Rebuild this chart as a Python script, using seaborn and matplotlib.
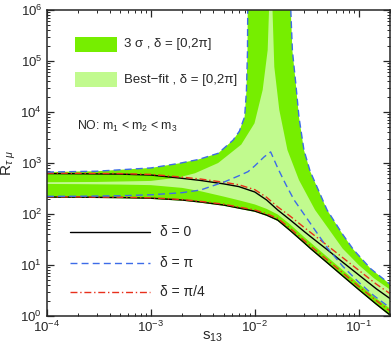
import numpy as np
import matplotlib
matplotlib.use("Agg")
import matplotlib.pyplot as plt
from matplotlib.patches import Rectangle
import seaborn as sns

# ---------------- data ----------------
s13_band = [1e-4, 2e-4, 5e-4, 1e-3, 2e-3, 3e-3, 5e-3, 7e-3, 0.01, 0.013, 0.0166,
            0.022, 0.03, 0.0344, 0.05, 0.0715, 0.1, 0.148, 0.2]
R_delta0_hi = [620, 615, 605, 580, 500, 455, 390, 345, 270, 188, 120,
               76, 45, 36, 19.8, 11, 6.4, 3.4, 2.2]
R_delta0_lo = [215, 214, 210, 204, 188, 172, 150, 131, 114, 95, 76,
               47, 27, 21, 11, 5.9, 3.3, 1.7, 1.05]
R_pi4_hi = [632, 628, 620, 598, 528, 485, 420, 375, 300, 212, 138,
            90, 54, 43.5, 24, 13.5, 7.9, 4.2, 2.75]
R_pi4_lo = [218, 217, 213, 208, 192, 177, 156, 137, 120, 101, 82,
            52, 30, 23.5, 12.5, 6.8, 3.8, 2.0, 1.25]
R_3sigma_lo = [208, 207, 203, 197, 182, 166, 145, 127, 110, 92, 73,
               45.5, 26, 20.3, 10.6, 5.7, 3.2, 1.64, 1.0]
R_bestfit_lo = [388, 385, 378, 368, 325, 280, 220, 186, 154, 126, 98,
                62, 35, 27.5, 14.3, 7.7, 4.3, 2.2, 1.4]

s13_pi = [1e-4, 2e-4, 5e-4, 1e-3, 2e-3, 3e-3, 5.15e-3, 7e-3, 8.6e-3, 0.01, 0.0123,
          0.0142, 0.0155, 0.0166, 0.02, 0.0239, 0.032, 0.0496, 0.07, 0.1, 0.14, 0.2]
R_pi_lo = [222, 223, 228, 238, 262, 295, 430, 560, 676, 880, 1320,
           1650, 1100, 800, 370, 188, 80, 22, 9.5, 4.6, 2.5, 1.45]

# upper edge of the 3 sigma region (delta = pi), diverging
s13_3s_left = [1e-4, 3e-4, 1e-3, 1.85e-3, 2.86e-3, 4.44e-3, 6.17e-3, 7.1e-3, 7.98e-3, 8.3e-3, 8.5e-3, 8.6e-3]
R_3s_left = [665, 690, 800, 980, 1170, 1550, 2800, 4200, 8100, 25000, 150000, 1e7]
s13_3s_right = [0.0219, 0.0222, 0.023, 0.0248, 0.0266, 0.0297, 0.034, 0.037, 0.0496, 0.07, 0.089, 0.13, 0.2]
R_3s_right = [1e7, 1e6, 1.6e5, 3.6e4, 8000, 1800, 700, 470, 120, 40, 20, 8.5, 4.2]

# upper edge of the best-fit region, diverging
s13_bf_left = [1e-4, 3e-4, 1e-3, 1.85e-3, 2.66e-3, 4.44e-3, 7.41e-3, 9.93e-3, 0.0119, 0.0133, 0.0137, 0.0139]
R_bf_left = [420, 425, 445, 520, 630, 1000, 2300, 6000, 27000, 1.64e5, 1e6, 1e7]
s13_bf_right = [0.0146, 0.0148, 0.0154, 0.0172, 0.0206, 0.0266, 0.038, 0.05, 0.07, 0.1, 0.14, 0.2]
R_bf_right = [1e7, 1e6, 77000, 11000, 1800, 464, 120, 55, 21, 10, 5.5, 3.3]

legend_fill_labels = ["3 σ , δ = [0,2π]", "Best\u2212fit , δ = [0,2π]"]
legend_line_labels = ["δ = 0", "δ = π", "δ = π/4"]
mass_text = "NO: m$_1$ < m$_2$ < m$_3$"

DARK = "#76EE00"
LIGHT = "#C1FA8E"
BLUE = "#3D6BE8"
RED = "#E8301C"

# ---------------- style ----------------
sns.set_style("ticks")
plt.rcParams['font.family'] = ['Liberation Sans', 'DejaVu Sans']
plt.rcParams['mathtext.fontset'] = 'custom'
plt.rcParams['mathtext.rm'] = 'Liberation Sans'
plt.rcParams['mathtext.it'] = 'Liberation Sans:italic'
plt.rcParams['mathtext.bf'] = 'Liberation Sans:bold'
plt.rcParams['mathtext.sf'] = 'Liberation Sans'

fig = plt.figure(figsize=(3.92, 3.47), dpi=100)
ax = fig.add_axes([47 / 392, 31 / 347, 343 / 392, 306 / 347])
ax.set_xscale('log')
ax.set_yscale('log')

# ---------------- filled regions ----------------
x3 = np.concatenate([s13_3s_left, s13_3s_right, s13_band[::-1]])
y3 = np.concatenate([R_3s_left, R_3s_right, R_3sigma_lo[::-1]])
ax.fill(x3, y3, color=DARK, lw=0, zorder=1)

xb = np.concatenate([s13_bf_left, s13_bf_right, s13_band[::-1]])
yb = np.concatenate([R_bf_left, R_bf_right, R_bestfit_lo[::-1]])
ax.fill(xb, yb, color=LIGHT, lw=0, zorder=2)

# ---------------- lines ----------------
dash = (0, (5, 3))
dashdot = (0, (5, 2, 1, 2))
sns.lineplot(x=s13_band, y=R_delta0_hi, ax=ax, color="black", lw=1.0, estimator=None, zorder=4)
sns.lineplot(x=s13_band, y=R_delta0_lo, ax=ax, color="black", lw=1.0, estimator=None, zorder=4)
sns.lineplot(x=s13_band, y=R_pi4_hi, ax=ax, color=RED, lw=1.0, linestyle=dashdot, estimator=None, zorder=5)
sns.lineplot(x=s13_band, y=R_pi4_lo, ax=ax, color=RED, lw=1.0, linestyle=dashdot, estimator=None, zorder=5)
sns.lineplot(x=s13_pi, y=R_pi_lo, ax=ax, color=BLUE, lw=1.0, linestyle=dash, estimator=None, zorder=5)
sns.lineplot(x=s13_3s_left, y=R_3s_left, ax=ax, color=BLUE, lw=1.0, linestyle=dash, estimator=None, zorder=5)
sns.lineplot(x=s13_3s_right, y=R_3s_right, ax=ax, color=BLUE, lw=1.0, linestyle=dash, estimator=None, zorder=5)

ax.set_xlim(1e-4, 0.2)
ax.set_ylim(1, 1e6)

# ---------------- legends (manual) ----------------
ax.add_patch(Rectangle((0.082, 0.863), 0.122, 0.049, transform=ax.transAxes,
                       color=DARK, lw=0, zorder=6))
ax.add_patch(Rectangle((0.082, 0.748), 0.122, 0.049, transform=ax.transAxes,
                       color=LIGHT, lw=0, zorder=6))
ax.text(0.2245, 0.889, legend_fill_labels[0], transform=ax.transAxes,
        fontsize=9.5, va='center', ha='left', zorder=7)
ax.text(0.2245, 0.772, legend_fill_labels[1], transform=ax.transAxes,
        fontsize=9.5, va='center', ha='left', zorder=7)
ax.text(0.0875, 0.618, mass_text, transform=ax.transAxes,
        fontsize=8.8, va='center', ha='left', zorder=7)

line_y = [0.2755, 0.174, 0.0794]
styles = [("black", "-"), (BLUE, dash), (RED, dashdot)]
for yy, (c, ls), lab in zip(line_y, styles, legend_line_labels):
    ax.plot([0.067, 0.300], [yy, yy], transform=ax.transAxes, color=c,
            linestyle=ls, lw=1.0, zorder=7)
    ax.text(0.329, yy, lab, transform=ax.transAxes, fontsize=10,
            va='center', ha='left', zorder=7)

# ---------------- axes cosmetics ----------------
ax.tick_params(which='both', direction='in', top=True, right=True, labelsize=9.5)
ax.tick_params(which='major', length=5, width=0.9)
ax.tick_params(which='minor', length=2.5, width=0.7)
ax.tick_params(axis='x', which='major', pad=3)
ax.tick_params(axis='y', which='major', pad=3.5)
for sp in ax.spines.values():
    sp.set_linewidth(1.1)
    sp.set_zorder(10)

ax.set_xlabel("")
ax.set_ylabel("")
ax.text(0.484, -0.068, "s$_{13}$", transform=ax.transAxes, fontsize=11,
        ha='center', va='center')
ax.text(-0.111, 0.5, r"R$_{\tau\ \mu}$", transform=ax.transAxes, fontsize=11,
        ha='center', va='center', rotation=90)

fig.savefig("out.png", dpi=100)
